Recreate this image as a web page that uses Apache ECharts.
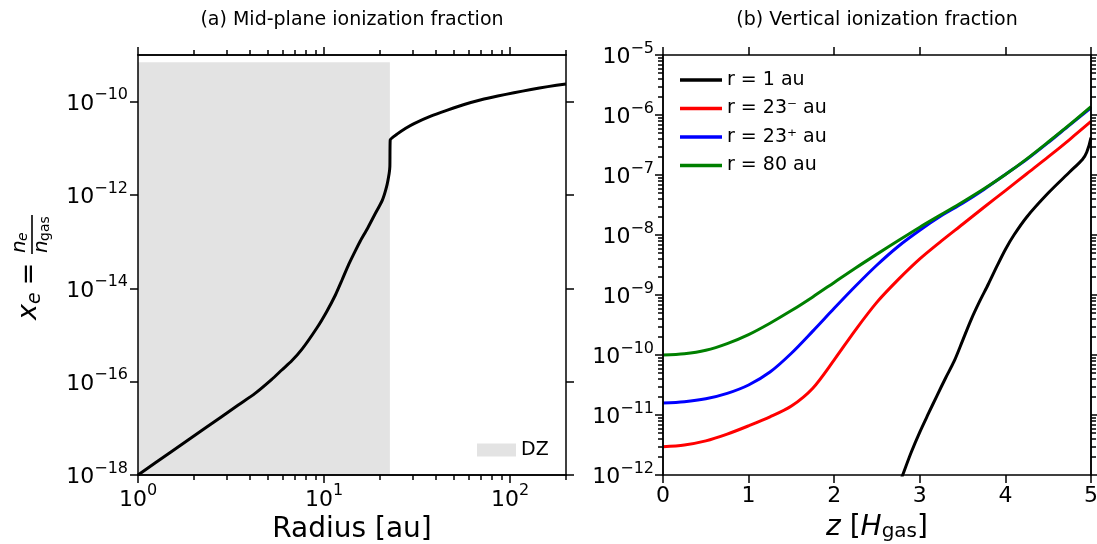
<!DOCTYPE html>
<html><head><meta charset="utf-8">
<script src="https://cdn.jsdelivr.net/npm/echarts@6/dist/echarts.min.js"></script>
<style>html,body{margin:0;padding:0;background:#fff}#c{width:1097px;height:544px}</style>
</head><body><div id="c"></div>
<script>
const FONT = 'DejaVu Sans';

// ---------- Panel (a): mid-plane ionization fraction ----------
const radius = [1, 1.51, 2.29, 3.46, 4.26, 5.24, 5.93, 6.71, 7.6, 9.15, 10.35, 11.5, 12.5, 13.6, 14.8, 15.7, 17.1, 18.6, 20.6, 21.7, 22.4, 22.6, 22.7, 24.8, 27.5, 30.5, 37.5, 46.1, 56.7, 70, 85.9, 105, 129.8, 159.6, 200];
const xeMid = [1.0e-18, 3.16e-18, 1.0e-17, 3.16e-17, 5.6e-17, 1.12e-16, 1.78e-16, 2.8e-16, 4.9e-16, 1.41e-15, 3.2e-15, 7.1e-15, 1.51e-14, 3.3e-14, 6.6e-14, 1.05e-13, 1.9e-13, 3.6e-13, 7.8e-13, 1.51e-12, 2.9e-12, 4.1e-12, 1.51e-11, 2.04e-11, 2.7e-11, 3.4e-11, 4.9e-11, 6.6e-11, 8.7e-11, 1.1e-10, 1.32e-10, 1.55e-10, 1.82e-10, 2.1e-10, 2.4e-10];
const dzRadius = [1, 22.6];
const dzTop = [7e-10, 7e-10];
const rMajorTicks = [1, 10, 100];
const rMinorTicks = [2, 3, 4, 5, 6, 7, 8, 9, 20, 30, 40, 50, 60, 70, 80, 90, 200];
const xeMidTicks = [1e-18, 1e-16, 1e-14, 1e-12, 1e-10];

// ---------- Panel (b): vertical ionization fraction ----------
const zGrid = [0, 0.25, 0.5, 0.75, 1, 1.25, 1.5, 1.75, 2, 2.25, 2.5, 2.75, 3, 3.25, 3.5, 3.75, 4, 4.25, 4.5, 4.75, 5];
const xe80 = [1.0e-10, 1.05e-10, 1.2e-10, 1.55e-10, 2.19e-10, 3.39e-10, 5.5e-10, 9.3e-10, 1.62e-9, 2.82e-9, 4.8e-9, 8.1e-9, 1.35e-8, 2.19e-8, 3.55e-8, 5.9e-8, 1.02e-7, 1.86e-7, 3.55e-7, 6.9e-7, 1.38e-6];
const xe23plus = [1.58e-11, 1.66e-11, 1.86e-11, 2.29e-11, 3.16e-11, 5.2e-11, 1.07e-10, 2.5e-10, 6.0e-10, 1.41e-9, 3.16e-9, 6.5e-9, 1.2e-8, 2.09e-8, 3.39e-8, 5.75e-8, 1.02e-7, 1.82e-7, 3.47e-7, 6.8e-7, 1.32e-6];
const xe23minus = [2.95e-12, 3.16e-12, 3.7e-12, 4.8e-12, 6.6e-12, 9.3e-12, 1.41e-11, 2.8e-11, 8.3e-11, 2.63e-10, 7.6e-10, 1.82e-9, 4.0e-9, 7.9e-9, 1.51e-8, 2.9e-8, 5.5e-8, 1.05e-7, 2.0e-7, 3.9e-7, 7.8e-7];
const z1au = [2.78, 2.8, 2.9, 3.0, 3.1, 3.2, 3.3, 3.4, 3.5, 3.6, 3.7, 3.8, 3.9, 4.0, 4.1, 4.25, 4.5, 4.75, 4.9, 4.95, 5.0];
const xe1au = [8.3e-13, 1.0e-12, 2.4e-12, 5.2e-12, 1.05e-11, 2.09e-11, 4.1e-11, 7.8e-11, 1.74e-10, 3.9e-10, 7.9e-10, 1.51e-9, 3.0e-9, 5.75e-9, 1.0e-8, 2.0e-8, 5.0e-8, 1.12e-7, 1.82e-7, 2.4e-7, 4.2e-7];
const seriesNames = ['r = 1 au', 'r = 23\u207B au', 'r = 23\u207A au', 'r = 80 au'];
const seriesColors = ['#000000', '#ff0000', '#0000ff', '#008000'];
const xeVertMajor = [1e-12, 1e-11, 1e-10, 1e-9, 1e-8, 1e-7, 1e-6, 1e-5];
const minorMultipliers = [2, 3, 4, 5, 6, 7, 8, 9];
const xeVertMinor = [];
xeVertMajor.slice(0, -1).forEach(d => minorMultipliers.forEach(m => xeVertMinor.push(m * d)));

const pair = (xs, ys) => xs.map((x, i) => [x, ys[i]]);

function powLabel(v) {
  const e = Math.round(Math.log10(v));
  return '{b|10}{s|' + (e < 0 ? '\u2212' : '') + Math.abs(e) + '}';
}
const richPow = {
  b: {fontFamily: FONT, fontSize: 22, lineHeight: 27, color: '#000', verticalAlign: 'bottom'},
  s: {fontFamily: FONT, fontSize: 16, lineHeight: 16, color: '#000', padding: [0, 0, 12, 0], verticalAlign: 'bottom'}
};
const lineSt = {color: '#000', width: 1.5};
const MAJ = 8, MIN = 5;

function ax(o) {
  const base = {
    axisLine: {show: true, onZero: false, lineStyle: lineSt},
    splitLine: {show: false},
    minorTick: {show: false},
    axisTick: {show: true, inside: false, length: MAJ, lineStyle: lineSt},
    axisLabel: {show: false},
    z: 5
  };
  return Object.assign(base, o);
}

const chart = echarts.init(document.getElementById('c'), null, {renderer: 'canvas'});

const rMin = 1 * 0.99999, rMax = 200 * 1.00001;
const yAMin = 1e-18 * 0.99999, yAMax = 1e-9 * 1.00001;
const yBMin = 1e-12 * 0.99999, yBMax = 1e-5 * 1.00001;

const curveSmooth = 0.3;

const option = {
  animation: false,
  backgroundColor: '#fff',
  textStyle: {fontFamily: FONT},
  grid: [
    {left: 138, right: 531, top: 55, bottom: 69, containLabel: false, outerBoundsMode: 'none'},
    {left: 663, right: 6, top: 55, bottom: 69, containLabel: false, outerBoundsMode: 'none'}
  ],
  xAxis: [
    ax({gridIndex: 0, type: 'log', logBase: 10, min: rMin, max: rMax, position: 'bottom',
      axisTick: {show: true, customValues: rMajorTicks, length: MAJ, lineStyle: lineSt},
      axisLabel: {show: true, customValues: rMajorTicks, formatter: powLabel, margin: 9, rich: richPow},
      name: 'Radius [au]', nameLocation: 'middle', nameGap: 38,
      nameTextStyle: {fontFamily: FONT, fontSize: 28, color: '#000'}}),
    ax({gridIndex: 0, type: 'log', logBase: 10, min: rMin, max: rMax, position: 'bottom',
      axisTick: {show: true, customValues: rMinorTicks, length: MIN, lineStyle: lineSt}}),
    ax({gridIndex: 0, type: 'log', logBase: 10, min: rMin, max: rMax, position: 'top',
      axisTick: {show: true, customValues: rMajorTicks, length: MAJ, lineStyle: lineSt}}),
    ax({gridIndex: 0, type: 'log', logBase: 10, min: rMin, max: rMax, position: 'top',
      axisTick: {show: true, customValues: rMinorTicks, length: MIN, lineStyle: lineSt}}),
    ax({gridIndex: 1, type: 'value', min: 0, max: 5, interval: 1, position: 'bottom',
      axisTick: {show: true, length: MAJ, lineStyle: lineSt},
      axisLabel: {show: true, margin: 10, fontFamily: FONT, fontSize: 22, color: '#000'},
      name: '{i|z}{n| [}{i|H}{sub|gas}{n|]}', nameLocation: 'middle', nameGap: 35,
      nameTextStyle: {rich: {
        i: {fontFamily: FONT, fontStyle: 'italic', fontSize: 28, lineHeight: 32, color: '#000', verticalAlign: 'bottom'},
        n: {fontFamily: FONT, fontSize: 28, lineHeight: 32, color: '#000', verticalAlign: 'bottom'},
        sub: {fontFamily: FONT, fontSize: 20, lineHeight: 20, color: '#000', verticalAlign: 'bottom'}
      }}}),
    ax({gridIndex: 1, type: 'value', min: 0, max: 5, interval: 1, position: 'top',
      axisTick: {show: true, length: MAJ, lineStyle: lineSt}})
  ],
  yAxis: [
    ax({gridIndex: 0, type: 'log', logBase: 10, min: yAMin, max: yAMax, position: 'left',
      axisTick: {show: true, customValues: xeMidTicks, length: MAJ, lineStyle: lineSt},
      axisLabel: {show: true, customValues: xeMidTicks, formatter: powLabel, margin: 10, rich: richPow}}),
    ax({gridIndex: 0, type: 'log', logBase: 10, min: yAMin, max: yAMax, position: 'right',
      axisTick: {show: true, customValues: xeMidTicks, length: MAJ, lineStyle: lineSt}}),
    ax({gridIndex: 1, type: 'log', logBase: 10, min: yBMin, max: yBMax, position: 'left',
      axisTick: {show: true, customValues: xeVertMajor, length: MAJ, lineStyle: lineSt},
      axisLabel: {show: true, customValues: xeVertMajor, formatter: powLabel, margin: 9, rich: richPow}}),
    ax({gridIndex: 1, type: 'log', logBase: 10, min: yBMin, max: yBMax, position: 'left',
      axisTick: {show: true, customValues: xeVertMinor, length: MIN, lineStyle: lineSt}}),
    ax({gridIndex: 1, type: 'log', logBase: 10, min: yBMin, max: yBMax, position: 'right',
      axisTick: {show: true, customValues: xeVertMajor, length: MAJ, lineStyle: lineSt}}),
    ax({gridIndex: 1, type: 'log', logBase: 10, min: yBMin, max: yBMax, position: 'right',
      axisTick: {show: true, customValues: xeVertMinor, length: MIN, lineStyle: lineSt}})
  ],
  legend: [
    {data: seriesNames, orient: 'vertical', left: 680, top: 70, itemWidth: 42, itemHeight: 3.5, itemGap: 8.5,
      icon: 'rect', padding: 0, selectedMode: false,
      textStyle: {fontFamily: FONT, fontSize: 19, lineHeight: 20, color: '#000'}},
    {data: ['DZ'], left: 477, top: 440, itemWidth: 39, itemHeight: 13, icon: 'rect', padding: 0, selectedMode: false,
      textStyle: {fontFamily: FONT, fontSize: 19, lineHeight: 20, color: '#000'}}
  ],
  graphic: [
    {type: 'text', x: 352, y: 11, style: {text: '(a) Mid-plane ionization fraction', x: 0, y: 0, align: 'center', verticalAlign: 'top', fontFamily: FONT, fontSize: 19, fill: '#000'}},
    {type: 'text', x: 877, y: 11, style: {text: '(b) Vertical ionization fraction', x: 0, y: 0, align: 'center', verticalAlign: 'top', fontFamily: FONT, fontSize: 19, fill: '#000'}},
    {type: 'group', x: 32, y: 266, rotation: Math.PI / 2, children: [
      {type: 'text', style: {text: 'x', x: -54, y: -3, align: 'left', verticalAlign: 'middle', fontFamily: FONT, fontStyle: 'italic', fontSize: 27, fill: '#000'}},
      {type: 'text', style: {text: 'e', x: -38, y: 3, align: 'left', verticalAlign: 'middle', fontFamily: FONT, fontStyle: 'italic', fontSize: 19, fill: '#000'}},
      {type: 'text', style: {text: '=', x: -8, y: -2, align: 'center', verticalAlign: 'middle', fontFamily: FONT, fontSize: 27, fill: '#000'}},
      {type: 'rect', shape: {x: 12, y: -0.8, width: 39, height: 1.6}, style: {fill: '#000'}},
      {type: 'text', style: {text: 'n', x: 13, y: -12, align: 'left', verticalAlign: 'middle', fontFamily: FONT, fontStyle: 'italic', fontSize: 20, fill: '#000'}},
      {type: 'text', style: {text: 'e', x: 25, y: -9, align: 'left', verticalAlign: 'middle', fontFamily: FONT, fontStyle: 'italic', fontSize: 14, fill: '#000'}},
      {type: 'text', style: {text: 'n', x: 13, y: 10, align: 'left', verticalAlign: 'middle', fontFamily: FONT, fontStyle: 'italic', fontSize: 20, fill: '#000'}},
      {type: 'text', style: {text: 'gas', x: 25, y: 13, align: 'left', verticalAlign: 'middle', fontFamily: FONT, fontSize: 14, fill: '#000'}}
    ]}
  ],
  series: [
    {name: 'DZ', type: 'line', xAxisIndex: 0, yAxisIndex: 0, data: pair(dzRadius, dzTop), symbol: 'none',
      lineStyle: {width: 0, color: '#e3e3e3'}, itemStyle: {color: '#e3e3e3'},
      areaStyle: {color: '#e3e3e3', opacity: 1, origin: 'start'}, z: 1, silent: true},
    {name: 'midplane', type: 'line', xAxisIndex: 0, yAxisIndex: 0, data: pair(radius, xeMid), symbol: 'none', smooth: 0.2,
      lineStyle: {width: 3, color: '#000', join: 'round'}, itemStyle: {color: '#000'}, z: 3, clip: true},
    {name: seriesNames[0], type: 'line', xAxisIndex: 4, yAxisIndex: 2, data: pair(z1au, xe1au), symbol: 'none', clip: true, smooth: curveSmooth,
      lineStyle: {width: 3, color: seriesColors[0], join: 'round'}, itemStyle: {color: seriesColors[0]}, z: 3},
    {name: seriesNames[1], type: 'line', xAxisIndex: 4, yAxisIndex: 2, data: pair(zGrid, xe23minus), symbol: 'none', clip: true, smooth: curveSmooth,
      lineStyle: {width: 3, color: seriesColors[1], join: 'round'}, itemStyle: {color: seriesColors[1]}, z: 3},
    {name: seriesNames[2], type: 'line', xAxisIndex: 4, yAxisIndex: 2, data: pair(zGrid, xe23plus), symbol: 'none', clip: true, smooth: curveSmooth,
      lineStyle: {width: 3, color: seriesColors[2], join: 'round'}, itemStyle: {color: seriesColors[2]}, z: 3},
    {name: seriesNames[3], type: 'line', xAxisIndex: 4, yAxisIndex: 2, data: pair(zGrid, xe80), symbol: 'none', clip: true, smooth: curveSmooth,
      lineStyle: {width: 3, color: seriesColors[3], join: 'round'}, itemStyle: {color: seriesColors[3]}, z: 3}
  ]
};
chart.setOption(option);
</script>
</body></html>
